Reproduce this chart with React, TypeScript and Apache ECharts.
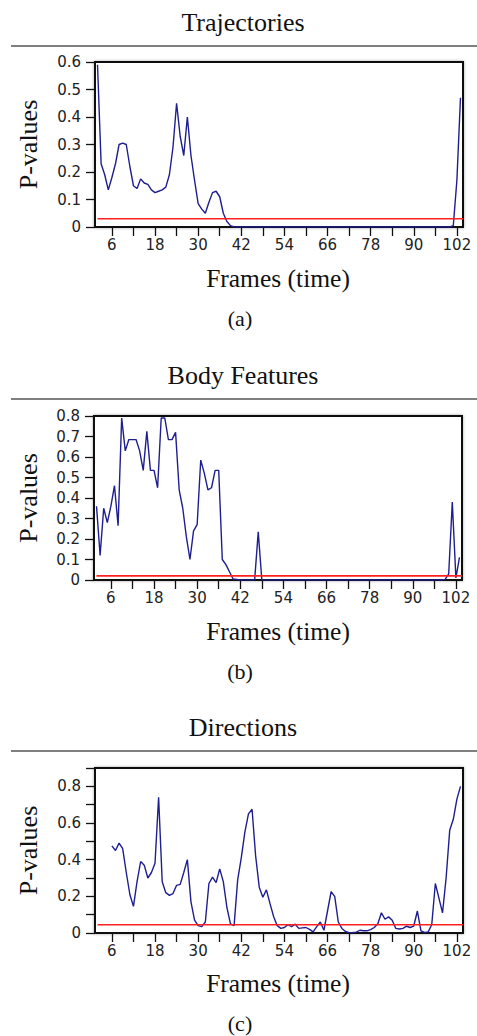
import React, { useEffect, useRef } from "react";
import * as echarts from "echarts";

// ---------- data ----------
const FRAME_MIN = 1.3;
const FRAME_MAX = 103.7;
const xLabelFrames = [6, 18, 30, 42, 54, 66, 78, 90, 102];
const xTickFrames = [6, 12, 18, 24, 30, 36, 42, 48, 54, 60, 66, 72, 78, 84, 90, 96, 102];

const panelTitles = ["Trajectories", "Body Features", "Directions"];
const panelLetters = ["(a)", "(b)", "(c)"];
const xAxisName = "Frames (time)";
const yAxisName = "P-values";

// Trajectories: frames 2..103
const trajStart = 2;
const trajectories = [
  0.59, 0.23, 0.19, 0.135, 0.18, 0.23, 0.3, 0.305, 0.3, 0.22,
  0.15, 0.14, 0.175, 0.16, 0.155, 0.135, 0.125, 0.13, 0.135, 0.145,
  0.19, 0.29, 0.45, 0.33, 0.26, 0.4, 0.26, 0.17, 0.085, 0.065,
  0.05, 0.09, 0.125, 0.13, 0.11, 0.05, 0.02, 0.005, 0, 0,
  0, 0, 0, 0, 0, 0, 0, 0, 0, 0,
  0, 0, 0, 0, 0, 0, 0, 0, 0, 0,
  0, 0, 0, 0, 0, 0, 0, 0, 0, 0,
  0, 0, 0, 0, 0, 0, 0, 0, 0, 0,
  0, 0, 0, 0, 0, 0, 0, 0, 0, 0,
  0, 0, 0, 0, 0, 0, 0, 0, 0, 0.005,
  0.17, 0.47,
];
const trajThreshold = 0.03;
const trajYTicks = [0, 0.1, 0.2, 0.3, 0.4, 0.5, 0.6];
const trajYLabels = [0, 0.1, 0.2, 0.3, 0.4, 0.5, 0.6];

// Body features: frames 2..103
const bodyStart = 2;
const bodyFeatures = [
  0.36, 0.12, 0.35, 0.28, 0.36, 0.46, 0.265, 0.79, 0.63, 0.685,
  0.685, 0.685, 0.63, 0.535, 0.725, 0.535, 0.535, 0.45, 0.79, 0.79,
  0.685, 0.685, 0.72, 0.44, 0.35, 0.21, 0.1, 0.24, 0.27, 0.585,
  0.52, 0.44, 0.45, 0.535, 0.535, 0.1, 0.075, 0.04, 0.005, 0.003,
  0, 0, 0, 0, 0, 0.235, 0, 0, 0, 0,
  0, 0, 0, 0, 0, 0, 0, 0, 0, 0,
  0, 0, 0, 0, 0, 0, 0, 0, 0, 0,
  0, 0, 0, 0, 0, 0, 0, 0, 0, 0,
  0, 0, 0, 0, 0, 0, 0, 0, 0, 0,
  0, 0, 0, 0, 0, 0, 0, 0.003, 0.03, 0.38,
  0.01, 0.11,
];
const bodyThreshold = 0.02;
const bodyYTicks = [0, 0.1, 0.2, 0.3, 0.4, 0.5, 0.6, 0.7, 0.8];
const bodyYLabels = [0, 0.1, 0.2, 0.3, 0.4, 0.5, 0.6, 0.7, 0.8];

// Directions: frames 6..103
const dirStart = 6;
const directions = [
  0.475, 0.45, 0.49, 0.46, 0.33, 0.21, 0.145, 0.28, 0.39, 0.37,
  0.3, 0.33, 0.38, 0.74, 0.28, 0.22, 0.205, 0.215, 0.26, 0.265,
  0.33, 0.4, 0.17, 0.07, 0.04, 0.035, 0.06, 0.27, 0.305, 0.275,
  0.35, 0.28, 0.14, 0.05, 0.04, 0.29, 0.41, 0.55, 0.65, 0.675,
  0.42, 0.25, 0.195, 0.235, 0.16, 0.09, 0.04, 0.025, 0.03, 0.045,
  0.035, 0.048, 0.025, 0.028, 0.03, 0.02, 0.006, 0.035, 0.06, 0.015,
  0.12, 0.225, 0.2, 0.06, 0.025, 0.008, 0.002, 0.003, 0.005, 0.015,
  0.012, 0.012, 0.018, 0.03, 0.05, 0.11, 0.075, 0.088, 0.07, 0.025,
  0.022, 0.025, 0.037, 0.03, 0.038, 0.12, 0.012, 0.003, 0.006, 0.045,
  0.27, 0.19, 0.11, 0.3, 0.56, 0.62, 0.73, 0.8,
];
const dirThreshold = 0.045;
const dirYTicks = [0, 0.1, 0.2, 0.3, 0.4, 0.5, 0.6, 0.7, 0.8, 0.9];
const dirYLabels = [0, 0.2, 0.4, 0.6, 0.8];

// ---------- layout ----------
const W = 477;
const H = 1036;
const SERIF = "'Liberation Serif', 'Times New Roman', serif";
const SANS = "'DejaVu Sans', sans-serif";
const BLUE = "#1e1e90";
const RED = "#ff2020";

const panels = [
  {
    values: trajectories, start: trajStart, threshold: trajThreshold,
    yMax: 0.6, yTicks: trajYTicks, yLabels: trajYLabels,
    grid: { left: 95, top: 62, width: 368, height: 165 },
    titleY: 22, ruleY: 46, xNameY: 278, letterY: 318,
  },
  {
    values: bodyFeatures, start: bodyStart, threshold: bodyThreshold,
    yMax: 0.8, yTicks: bodyYTicks, yLabels: bodyYLabels,
    grid: { left: 94, top: 416, width: 368, height: 164 },
    titleY: 375, ruleY: 399, xNameY: 631, letterY: 671,
  },
  {
    values: directions, start: dirStart, threshold: dirThreshold,
    yMax: 0.9, yTicks: dirYTicks, yLabels: dirYLabels,
    grid: { left: 95, top: 768, width: 368, height: 165 },
    titleY: 727, ruleY: 751, xNameY: 983, letterY: 1023,
  },
];

function fmt(v: number) {
  return String(Math.round(v * 10) / 10);
}

export default function App() {
  const ref = useRef<HTMLDivElement>(null);
  useEffect(() => {
    document.body.style.margin = "0";
    if (!ref.current) return;
    const chart = echarts.init(ref.current, undefined, { renderer: "svg" });

    const grids: any[] = [];
    const xAxes: any[] = [];
    const yAxes: any[] = [];
    const series: any[] = [];
    const graphics: any[] = [];

    panels.forEach((p, i) => {
      grids.push({
        ...p.grid,
        show: true,
        borderColor: "#111",
        borderWidth: 2,
        backgroundColor: "#fff",
        shadowBlur: 3,
        shadowColor: "rgba(0,0,0,0.35)",
        containLabel: false,
      });
      xAxes.push({
        type: "value",
        gridIndex: i,
        min: FRAME_MIN,
        max: FRAME_MAX,
        splitLine: { show: false },
        axisLine: { show: true, onZero: false, lineStyle: { color: "#111", width: 1.5 } },
        axisTick: {
          show: true,
          inside: false,
          length: 9,
          customValues: xTickFrames,
          lineStyle: { color: "#111", width: 1.3 },
        },
        axisLabel: {
          show: true,
          customValues: xLabelFrames,
          margin: 10,
          fontFamily: SANS,
          fontSize: 15,
          color: "#222",
        },
      });
      yAxes.push({
        type: "value",
        gridIndex: i,
        min: 0,
        max: p.yMax,
        interval: 0.1,
        splitLine: { show: false },
        axisLine: { show: true, onZero: false, lineStyle: { color: "#111", width: 1.5 } },
        axisTick: {
          show: true,
          inside: false,
          length: 9,
          customValues: p.yTicks,
          lineStyle: { color: "#111", width: 1.3 },
        },
        axisLabel: {
          show: true,
          customValues: p.yLabels,
          margin: 14,
          fontFamily: SANS,
          fontSize: 15,
          color: "#222",
          formatter: (v: number) => fmt(v),
        },
      });
      series.push({
        type: "line",
        xAxisIndex: i,
        yAxisIndex: i,
        data: p.values.map((v, k) => [p.start + k, v]),
        showSymbol: false,
        symbol: "none",
        lineStyle: { color: BLUE, width: 1.4 },
        z: 3,
      });
      series.push({
        type: "line",
        xAxisIndex: i,
        yAxisIndex: i,
        data: [
          [2, p.threshold],
          [FRAME_MAX, p.threshold],
        ],
        showSymbol: false,
        symbol: "none",
        lineStyle: { color: RED, width: 1.6 },
        z: 4,
      });

      const cy = p.grid.top + p.grid.height / 2;
      graphics.push(
        {
          type: "text",
          x: 243,
          y: p.titleY,
          style: {
            text: panelTitles[i],
            font: `26px ${SERIF}`,
            fill: "#111",
            align: "center",
            verticalAlign: "middle",
          },
        },
        {
          type: "line",
          shape: { x1: 11, y1: p.ruleY, x2: W, y2: p.ruleY },
          style: { stroke: "#555", lineWidth: 1.5 },
        },
        {
          type: "text",
          x: 278,
          y: p.xNameY,
          style: {
            text: xAxisName,
            font: `25.5px ${SERIF}`,
            fill: "#111",
            align: "center",
            verticalAlign: "middle",
          },
        },
        {
          type: "text",
          x: 240,
          y: p.letterY,
          style: {
            text: panelLetters[i],
            font: `22px ${SERIF}`,
            fill: "#111",
            align: "center",
            verticalAlign: "middle",
          },
        },
        {
          type: "text",
          x: 28,
          y: cy,
          rotation: Math.PI / 2,
          style: {
            text: yAxisName,
            font: `26px ${SERIF}`,
            fill: "#111",
            align: "center",
            verticalAlign: "middle",
          },
        }
      );
    });

    chart.setOption({
      animation: false,
      backgroundColor: "#fff",
      grid: grids,
      xAxis: xAxes,
      yAxis: yAxes,
      series,
      graphic: graphics,
    });
    return () => chart.dispose();
  }, []);
  return <div ref={ref} style={{ width: W, height: H }} />;
}
